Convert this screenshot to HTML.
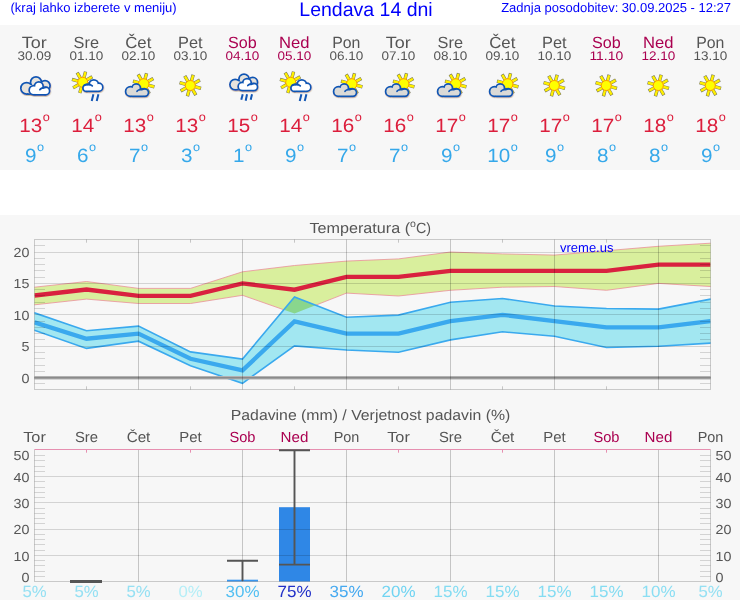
<!DOCTYPE html>
<html><head><meta charset="utf-8"><title>Lendava 14 dni</title>
<style>html,body{margin:0;padding:0;background:#fff;}body{width:740px;height:600px;overflow:hidden;font-family:"Liberation Sans",sans-serif;}svg{display:block;will-change:transform;text-rendering:geometricPrecision;font-family:"Liberation Sans",sans-serif;}</style></head><body>
<svg width="740" height="600" viewBox="0 0 740 600">
<rect x="0" y="0" width="740" height="600" fill="#ffffff"/>
<rect x="0" y="25" width="740" height="145" fill="#f7f7f7"/>
<rect x="0" y="215" width="740" height="385" fill="#f7f7f7"/>
<text x="10.5" y="11.5" font-size="13" fill="#0000fa" text-anchor="start" >(kraj lahko izberete v meniju)</text>
<text x="366" y="15.6" font-size="19.5" fill="#0000fa" text-anchor="middle" >Lendava 14 dni</text>
<text x="731" y="11.5" font-size="13" fill="#0000fa" text-anchor="end" >Zadnja posodobitev: 30.09.2025 - 12:27</text>
<defs><filter id="sh" x="-20%" y="-20%" width="140%" height="150%"><feDropShadow dx="0.4" dy="0.9" stdDeviation="0.45" flood-color="#9a7a4a" flood-opacity="0.5"/></filter>
<g id="icA"><g fill="#1156b4" stroke="#1156b4" stroke-width="3.5" stroke-linejoin="round" filter="url(#sh)"><circle cx="12.6" cy="20.3" r="4.9"/><circle cx="22" cy="14.3" r="4.55"/><circle cx="31" cy="17.7" r="4.25"/><rect x="12" y="17" width="19.5" height="8.25" rx="2.5"/></g><g fill="#e6e3dd" stroke="none"><circle cx="12.6" cy="20.3" r="4.9"/><circle cx="22" cy="14.3" r="4.55"/><circle cx="31" cy="17.7" r="4.25"/><rect x="12" y="17" width="19.5" height="8.25" rx="2.5"/></g><g fill="#1156b4" stroke="#1156b4" stroke-width="3.5" stroke-linejoin="round" filter="url(#sh)"><circle cx="19.8" cy="22.2" r="3.75"/><circle cx="24.8" cy="18.3" r="3.5"/><circle cx="31.8" cy="23.0" r="2.95"/><rect x="19.8" y="21" width="12.5" height="4.95" rx="2"/></g><g fill="#ffffff" stroke="none"><circle cx="19.8" cy="22.2" r="3.75"/><circle cx="24.8" cy="18.3" r="3.5"/><circle cx="31.8" cy="23.0" r="2.95"/><rect x="19.8" y="21" width="12.5" height="4.95" rx="2"/></g><path d="M25.8,21.7 Q27.5,19.3 32,19.4" fill="none" stroke="#1156b4" stroke-width="1.7" stroke-linecap="round"/></g>
<g id="icE"><g fill="#1156b4" stroke="#1156b4" stroke-width="3.5" stroke-linejoin="round" filter="url(#sh)"><circle cx="13.2" cy="16.6" r="4.45"/><circle cx="22" cy="11.3" r="4.25"/><circle cx="30.7" cy="14.3" r="3.95"/><rect x="12.6" y="13.4" width="18.5" height="7.4" rx="2.5"/></g><g fill="#e6e3dd" stroke="none"><circle cx="13.2" cy="16.6" r="4.45"/><circle cx="22" cy="11.3" r="4.25"/><circle cx="30.7" cy="14.3" r="3.95"/><rect x="12.6" y="13.4" width="18.5" height="7.4" rx="2.5"/></g><g fill="#1156b4" stroke="#1156b4" stroke-width="3.5" stroke-linejoin="round" filter="url(#sh)"><circle cx="20.3" cy="18.5" r="3.3"/><circle cx="25" cy="15.0" r="3.4"/><circle cx="32" cy="19.0" r="2.7"/><rect x="20.3" y="17.3" width="12" height="4.4" rx="2"/></g><g fill="#ffffff" stroke="none"><circle cx="20.3" cy="18.5" r="3.3"/><circle cx="25" cy="15.0" r="3.4"/><circle cx="32" cy="19.0" r="2.7"/><rect x="20.3" y="17.3" width="12" height="4.4" rx="2"/></g><path d="M25.8,17.6 Q27.4,15.5 31.6,15.5" fill="none" stroke="#1156b4" stroke-width="1.7" stroke-linecap="round"/><line x1="20.7" y1="26.3" x2="19.3" y2="31.7" stroke="#1156b4" stroke-width="2"/><line x1="25" y1="26.3" x2="23.7" y2="32.7" stroke="#1156b4" stroke-width="2"/><line x1="30" y1="26.3" x2="28.7" y2="31.7" stroke="#1156b4" stroke-width="2"/></g>
<g id="icD"><line x1="21.46" y1="13.15" x2="23.17" y2="6.78" stroke="#74745c" stroke-width="3.4" stroke-linecap="butt"/><line x1="24.20" y1="15.25" x2="29.91" y2="11.95" stroke="#74745c" stroke-width="3.4" stroke-linecap="butt"/><line x1="24.65" y1="18.66" x2="31.02" y2="20.37" stroke="#74745c" stroke-width="3.4" stroke-linecap="butt"/><line x1="22.55" y1="21.40" x2="25.85" y2="27.11" stroke="#74745c" stroke-width="3.4" stroke-linecap="butt"/><line x1="19.14" y1="21.85" x2="17.43" y2="28.22" stroke="#74745c" stroke-width="3.4" stroke-linecap="butt"/><line x1="16.40" y1="19.75" x2="10.69" y2="23.05" stroke="#74745c" stroke-width="3.4" stroke-linecap="butt"/><line x1="15.95" y1="16.34" x2="9.58" y2="14.63" stroke="#74745c" stroke-width="3.4" stroke-linecap="butt"/><line x1="18.05" y1="13.60" x2="14.75" y2="7.89" stroke="#74745c" stroke-width="3.4" stroke-linecap="butt"/><line x1="21.54" y1="12.86" x2="23.06" y2="7.21" stroke="#fff000" stroke-width="2.4" stroke-linecap="butt"/><line x1="24.46" y1="15.10" x2="29.52" y2="12.18" stroke="#fff000" stroke-width="2.4" stroke-linecap="butt"/><line x1="24.94" y1="18.74" x2="30.59" y2="20.26" stroke="#fff000" stroke-width="2.4" stroke-linecap="butt"/><line x1="22.70" y1="21.66" x2="25.62" y2="26.72" stroke="#fff000" stroke-width="2.4" stroke-linecap="butt"/><line x1="19.06" y1="22.14" x2="17.54" y2="27.79" stroke="#fff000" stroke-width="2.4" stroke-linecap="butt"/><line x1="16.14" y1="19.90" x2="11.08" y2="22.82" stroke="#fff000" stroke-width="2.4" stroke-linecap="butt"/><line x1="15.66" y1="16.26" x2="10.01" y2="14.74" stroke="#fff000" stroke-width="2.4" stroke-linecap="butt"/><line x1="17.90" y1="13.34" x2="14.97" y2="8.28" stroke="#fff000" stroke-width="2.4" stroke-linecap="butt"/><circle cx="20.3" cy="17.5" r="5.0" fill="#ffff00" stroke="#ff9a00" stroke-width="1"/></g>
<g id="icB"><line x1="17.86" y1="9.95" x2="19.57" y2="3.58" stroke="#74745c" stroke-width="3.4" stroke-linecap="butt"/><line x1="20.60" y1="12.05" x2="26.31" y2="8.75" stroke="#74745c" stroke-width="3.4" stroke-linecap="butt"/><line x1="21.05" y1="15.46" x2="27.42" y2="17.17" stroke="#74745c" stroke-width="3.4" stroke-linecap="butt"/><line x1="18.95" y1="18.20" x2="22.25" y2="23.91" stroke="#74745c" stroke-width="3.4" stroke-linecap="butt"/><line x1="15.54" y1="18.65" x2="13.83" y2="25.02" stroke="#74745c" stroke-width="3.4" stroke-linecap="butt"/><line x1="12.80" y1="16.55" x2="7.09" y2="19.85" stroke="#74745c" stroke-width="3.4" stroke-linecap="butt"/><line x1="12.35" y1="13.14" x2="5.98" y2="11.43" stroke="#74745c" stroke-width="3.4" stroke-linecap="butt"/><line x1="14.45" y1="10.40" x2="11.15" y2="4.69" stroke="#74745c" stroke-width="3.4" stroke-linecap="butt"/><line x1="17.94" y1="9.66" x2="19.46" y2="4.01" stroke="#fff000" stroke-width="2.4" stroke-linecap="butt"/><line x1="20.86" y1="11.90" x2="25.92" y2="8.98" stroke="#fff000" stroke-width="2.4" stroke-linecap="butt"/><line x1="21.34" y1="15.54" x2="26.99" y2="17.06" stroke="#fff000" stroke-width="2.4" stroke-linecap="butt"/><line x1="19.10" y1="18.46" x2="22.02" y2="23.52" stroke="#fff000" stroke-width="2.4" stroke-linecap="butt"/><line x1="15.46" y1="18.94" x2="13.94" y2="24.59" stroke="#fff000" stroke-width="2.4" stroke-linecap="butt"/><line x1="12.54" y1="16.70" x2="7.48" y2="19.62" stroke="#fff000" stroke-width="2.4" stroke-linecap="butt"/><line x1="12.06" y1="13.06" x2="6.41" y2="11.54" stroke="#fff000" stroke-width="2.4" stroke-linecap="butt"/><line x1="14.30" y1="10.14" x2="11.37" y2="5.08" stroke="#fff000" stroke-width="2.4" stroke-linecap="butt"/><circle cx="16.7" cy="14.3" r="5.0" fill="#ffff00" stroke="#ff9a00" stroke-width="1"/><g fill="#1156b4" stroke="#1156b4" stroke-width="3.5" stroke-linejoin="round" filter="url(#sh)"><circle cx="20.3" cy="20" r="2.55"/><circle cx="27.8" cy="16.5" r="3.75"/><circle cx="32.7" cy="19.3" r="3.25"/><rect x="20.3" y="17.5" width="12.8" height="5.05" rx="2"/></g><g fill="#ffffff" stroke="none"><circle cx="20.3" cy="20" r="2.55"/><circle cx="27.8" cy="16.5" r="3.75"/><circle cx="32.7" cy="19.3" r="3.25"/><rect x="20.3" y="17.5" width="12.8" height="5.05" rx="2"/></g><path d="M18.6,17.3 Q22.5,14.6 26.3,17.9" fill="none" stroke="#1156b4" stroke-width="1.7" stroke-linecap="round"/><line x1="27.4" y1="26.3" x2="25.7" y2="33" stroke="#1156b4" stroke-width="2"/><line x1="32.4" y1="26.3" x2="30.7" y2="33" stroke="#1156b4" stroke-width="2"/></g>
<g id="icC"><line x1="26.86" y1="11.65" x2="28.57" y2="5.28" stroke="#74745c" stroke-width="3.4" stroke-linecap="butt"/><line x1="29.60" y1="13.75" x2="35.31" y2="10.45" stroke="#74745c" stroke-width="3.4" stroke-linecap="butt"/><line x1="30.05" y1="17.16" x2="36.42" y2="18.87" stroke="#74745c" stroke-width="3.4" stroke-linecap="butt"/><line x1="27.95" y1="19.90" x2="31.25" y2="25.61" stroke="#74745c" stroke-width="3.4" stroke-linecap="butt"/><line x1="24.54" y1="20.35" x2="22.83" y2="26.72" stroke="#74745c" stroke-width="3.4" stroke-linecap="butt"/><line x1="21.80" y1="18.25" x2="16.09" y2="21.55" stroke="#74745c" stroke-width="3.4" stroke-linecap="butt"/><line x1="21.35" y1="14.84" x2="14.98" y2="13.13" stroke="#74745c" stroke-width="3.4" stroke-linecap="butt"/><line x1="23.45" y1="12.10" x2="20.15" y2="6.39" stroke="#74745c" stroke-width="3.4" stroke-linecap="butt"/><line x1="26.94" y1="11.36" x2="28.46" y2="5.71" stroke="#fff000" stroke-width="2.4" stroke-linecap="butt"/><line x1="29.86" y1="13.60" x2="34.92" y2="10.68" stroke="#fff000" stroke-width="2.4" stroke-linecap="butt"/><line x1="30.34" y1="17.24" x2="35.99" y2="18.76" stroke="#fff000" stroke-width="2.4" stroke-linecap="butt"/><line x1="28.10" y1="20.16" x2="31.02" y2="25.22" stroke="#fff000" stroke-width="2.4" stroke-linecap="butt"/><line x1="24.46" y1="20.64" x2="22.94" y2="26.29" stroke="#fff000" stroke-width="2.4" stroke-linecap="butt"/><line x1="21.54" y1="18.40" x2="16.48" y2="21.32" stroke="#fff000" stroke-width="2.4" stroke-linecap="butt"/><line x1="21.06" y1="14.76" x2="15.41" y2="13.24" stroke="#fff000" stroke-width="2.4" stroke-linecap="butt"/><line x1="23.30" y1="11.84" x2="20.37" y2="6.78" stroke="#fff000" stroke-width="2.4" stroke-linecap="butt"/><circle cx="25.7" cy="16" r="5.3" fill="#ffff00" stroke="#ff9a00" stroke-width="1"/><g fill="#1156b4" stroke="#1156b4" stroke-width="3.5" stroke-linejoin="round" filter="url(#sh)"><circle cx="12.5" cy="23.5" r="4.05"/><circle cx="18.2" cy="20.2" r="3.45"/><circle cx="26.7" cy="24.6" r="2.95"/><rect x="12.5" y="22.5" width="14.5" height="5.05" rx="2.2"/></g><g fill="#dbdad7" stroke="none"><circle cx="12.5" cy="23.5" r="4.05"/><circle cx="18.2" cy="20.2" r="3.45"/><circle cx="26.7" cy="24.6" r="2.95"/><rect x="12.5" y="22.5" width="14.5" height="5.05" rx="2.2"/></g><path d="M19,23.3 Q20.7,20.9 26.7,20.5" fill="none" stroke="#1156b4" stroke-width="1.7" stroke-linecap="round"/></g>
</defs>
<use href="#icA" x="14" y="68"/>
<use href="#icB" x="66" y="68"/>
<use href="#icC" x="118" y="68"/>
<use href="#icD" x="170" y="68"/>
<use href="#icE" x="222" y="68"/>
<use href="#icB" x="274" y="68"/>
<use href="#icC" x="326" y="68"/>
<use href="#icC" x="378" y="68"/>
<use href="#icC" x="430" y="68"/>
<use href="#icC" x="482" y="68"/>
<use href="#icD" x="534" y="68"/>
<use href="#icD" x="586" y="68"/>
<use href="#icD" x="638" y="68"/>
<use href="#icD" x="690" y="68"/>
<text x="34.3" y="47.9" font-size="16.2" fill="#555555" text-anchor="middle" textLength="25.0" lengthAdjust="spacingAndGlyphs" >Tor</text>
<text x="34.3" y="59.8" font-size="12.51" fill="#555555" text-anchor="middle" textLength="33.8" lengthAdjust="spacingAndGlyphs" >30.09</text>
<text x="19.3356453125" y="132.3" font-size="19.2" fill="#dc1e3c" text-anchor="start" textLength="23.0" lengthAdjust="spacingAndGlyphs" >13</text>
<text x="42.6673296875" y="121.30000000000001" font-size="12.0" fill="#dc1e3c" text-anchor="start" textLength="7.1" lengthAdjust="spacingAndGlyphs" >o</text>
<text x="25.093566406249998" y="162" font-size="19.2" fill="#35a8ea" text-anchor="start" textLength="11.5" lengthAdjust="spacingAndGlyphs" >9</text>
<text x="36.909408593749994" y="151.0" font-size="12.0" fill="#35a8ea" text-anchor="start" textLength="7.1" lengthAdjust="spacingAndGlyphs" >o</text>
<text x="86.3" y="47.9" font-size="16.2" fill="#555555" text-anchor="middle" textLength="25.4" lengthAdjust="spacingAndGlyphs" >Sre</text>
<text x="86.3" y="59.8" font-size="12.51" fill="#555555" text-anchor="middle" textLength="33.8" lengthAdjust="spacingAndGlyphs" >01.10</text>
<text x="71.3356453125" y="132.3" font-size="19.2" fill="#dc1e3c" text-anchor="start" textLength="23.0" lengthAdjust="spacingAndGlyphs" >14</text>
<text x="94.6673296875" y="121.30000000000001" font-size="12.0" fill="#dc1e3c" text-anchor="start" textLength="7.1" lengthAdjust="spacingAndGlyphs" >o</text>
<text x="77.09356640625" y="162" font-size="19.2" fill="#35a8ea" text-anchor="start" textLength="11.5" lengthAdjust="spacingAndGlyphs" >6</text>
<text x="88.90940859375" y="151.0" font-size="12.0" fill="#35a8ea" text-anchor="start" textLength="7.1" lengthAdjust="spacingAndGlyphs" >o</text>
<text x="138.3" y="47.9" font-size="16.2" fill="#555555" text-anchor="middle" textLength="26.1" lengthAdjust="spacingAndGlyphs" >Čet</text>
<text x="138.3" y="59.8" font-size="12.51" fill="#555555" text-anchor="middle" textLength="33.8" lengthAdjust="spacingAndGlyphs" >02.10</text>
<text x="123.3356453125" y="132.3" font-size="19.2" fill="#dc1e3c" text-anchor="start" textLength="23.0" lengthAdjust="spacingAndGlyphs" >13</text>
<text x="146.66732968750003" y="121.30000000000001" font-size="12.0" fill="#dc1e3c" text-anchor="start" textLength="7.1" lengthAdjust="spacingAndGlyphs" >o</text>
<text x="129.09356640625" y="162" font-size="19.2" fill="#35a8ea" text-anchor="start" textLength="11.5" lengthAdjust="spacingAndGlyphs" >7</text>
<text x="140.90940859375002" y="151.0" font-size="12.0" fill="#35a8ea" text-anchor="start" textLength="7.1" lengthAdjust="spacingAndGlyphs" >o</text>
<text x="190.3" y="47.9" font-size="16.2" fill="#555555" text-anchor="middle" textLength="24.6" lengthAdjust="spacingAndGlyphs" >Pet</text>
<text x="190.3" y="59.8" font-size="12.51" fill="#555555" text-anchor="middle" textLength="33.8" lengthAdjust="spacingAndGlyphs" >03.10</text>
<text x="175.3356453125" y="132.3" font-size="19.2" fill="#dc1e3c" text-anchor="start" textLength="23.0" lengthAdjust="spacingAndGlyphs" >13</text>
<text x="198.6673296875" y="121.30000000000001" font-size="12.0" fill="#dc1e3c" text-anchor="start" textLength="7.1" lengthAdjust="spacingAndGlyphs" >o</text>
<text x="181.09356640625" y="162" font-size="19.2" fill="#35a8ea" text-anchor="start" textLength="11.5" lengthAdjust="spacingAndGlyphs" >3</text>
<text x="192.90940859375002" y="151.0" font-size="12.0" fill="#35a8ea" text-anchor="start" textLength="7.1" lengthAdjust="spacingAndGlyphs" >o</text>
<text x="242.3" y="47.9" font-size="16.2" fill="#aa0050" text-anchor="middle" textLength="28.7" lengthAdjust="spacingAndGlyphs" >Sob</text>
<text x="242.3" y="59.8" font-size="12.51" fill="#aa0050" text-anchor="middle" textLength="33.8" lengthAdjust="spacingAndGlyphs" >04.10</text>
<text x="227.3356453125" y="132.3" font-size="19.2" fill="#dc1e3c" text-anchor="start" textLength="23.0" lengthAdjust="spacingAndGlyphs" >15</text>
<text x="250.6673296875" y="121.30000000000001" font-size="12.0" fill="#dc1e3c" text-anchor="start" textLength="7.1" lengthAdjust="spacingAndGlyphs" >o</text>
<text x="233.09356640625" y="162" font-size="19.2" fill="#35a8ea" text-anchor="start" textLength="11.5" lengthAdjust="spacingAndGlyphs" >1</text>
<text x="244.90940859375002" y="151.0" font-size="12.0" fill="#35a8ea" text-anchor="start" textLength="7.1" lengthAdjust="spacingAndGlyphs" >o</text>
<text x="294.3" y="47.9" font-size="16.2" fill="#aa0050" text-anchor="middle" textLength="30.5" lengthAdjust="spacingAndGlyphs" >Ned</text>
<text x="294.3" y="59.8" font-size="12.51" fill="#aa0050" text-anchor="middle" textLength="33.8" lengthAdjust="spacingAndGlyphs" >05.10</text>
<text x="279.3356453125" y="132.3" font-size="19.2" fill="#dc1e3c" text-anchor="start" textLength="23.0" lengthAdjust="spacingAndGlyphs" >14</text>
<text x="302.6673296875" y="121.30000000000001" font-size="12.0" fill="#dc1e3c" text-anchor="start" textLength="7.1" lengthAdjust="spacingAndGlyphs" >o</text>
<text x="285.09356640625" y="162" font-size="19.2" fill="#35a8ea" text-anchor="start" textLength="11.5" lengthAdjust="spacingAndGlyphs" >9</text>
<text x="296.90940859375" y="151.0" font-size="12.0" fill="#35a8ea" text-anchor="start" textLength="7.1" lengthAdjust="spacingAndGlyphs" >o</text>
<text x="346.3" y="47.9" font-size="16.2" fill="#555555" text-anchor="middle" textLength="28.2" lengthAdjust="spacingAndGlyphs" >Pon</text>
<text x="346.3" y="59.8" font-size="12.51" fill="#555555" text-anchor="middle" textLength="33.8" lengthAdjust="spacingAndGlyphs" >06.10</text>
<text x="331.3356453125" y="132.3" font-size="19.2" fill="#dc1e3c" text-anchor="start" textLength="23.0" lengthAdjust="spacingAndGlyphs" >16</text>
<text x="354.6673296875" y="121.30000000000001" font-size="12.0" fill="#dc1e3c" text-anchor="start" textLength="7.1" lengthAdjust="spacingAndGlyphs" >o</text>
<text x="337.09356640625" y="162" font-size="19.2" fill="#35a8ea" text-anchor="start" textLength="11.5" lengthAdjust="spacingAndGlyphs" >7</text>
<text x="348.90940859375" y="151.0" font-size="12.0" fill="#35a8ea" text-anchor="start" textLength="7.1" lengthAdjust="spacingAndGlyphs" >o</text>
<text x="398.3" y="47.9" font-size="16.2" fill="#555555" text-anchor="middle" textLength="25.0" lengthAdjust="spacingAndGlyphs" >Tor</text>
<text x="398.3" y="59.8" font-size="12.51" fill="#555555" text-anchor="middle" textLength="33.8" lengthAdjust="spacingAndGlyphs" >07.10</text>
<text x="383.3356453125" y="132.3" font-size="19.2" fill="#dc1e3c" text-anchor="start" textLength="23.0" lengthAdjust="spacingAndGlyphs" >16</text>
<text x="406.6673296875" y="121.30000000000001" font-size="12.0" fill="#dc1e3c" text-anchor="start" textLength="7.1" lengthAdjust="spacingAndGlyphs" >o</text>
<text x="389.09356640625" y="162" font-size="19.2" fill="#35a8ea" text-anchor="start" textLength="11.5" lengthAdjust="spacingAndGlyphs" >7</text>
<text x="400.90940859375" y="151.0" font-size="12.0" fill="#35a8ea" text-anchor="start" textLength="7.1" lengthAdjust="spacingAndGlyphs" >o</text>
<text x="450.3" y="47.9" font-size="16.2" fill="#555555" text-anchor="middle" textLength="25.4" lengthAdjust="spacingAndGlyphs" >Sre</text>
<text x="450.3" y="59.8" font-size="12.51" fill="#555555" text-anchor="middle" textLength="33.8" lengthAdjust="spacingAndGlyphs" >08.10</text>
<text x="435.3356453125" y="132.3" font-size="19.2" fill="#dc1e3c" text-anchor="start" textLength="23.0" lengthAdjust="spacingAndGlyphs" >17</text>
<text x="458.6673296875" y="121.30000000000001" font-size="12.0" fill="#dc1e3c" text-anchor="start" textLength="7.1" lengthAdjust="spacingAndGlyphs" >o</text>
<text x="441.09356640625" y="162" font-size="19.2" fill="#35a8ea" text-anchor="start" textLength="11.5" lengthAdjust="spacingAndGlyphs" >9</text>
<text x="452.90940859375" y="151.0" font-size="12.0" fill="#35a8ea" text-anchor="start" textLength="7.1" lengthAdjust="spacingAndGlyphs" >o</text>
<text x="502.3" y="47.9" font-size="16.2" fill="#555555" text-anchor="middle" textLength="26.1" lengthAdjust="spacingAndGlyphs" >Čet</text>
<text x="502.3" y="59.8" font-size="12.51" fill="#555555" text-anchor="middle" textLength="33.8" lengthAdjust="spacingAndGlyphs" >09.10</text>
<text x="487.3356453125" y="132.3" font-size="19.2" fill="#dc1e3c" text-anchor="start" textLength="23.0" lengthAdjust="spacingAndGlyphs" >17</text>
<text x="510.6673296875" y="121.30000000000001" font-size="12.0" fill="#dc1e3c" text-anchor="start" textLength="7.1" lengthAdjust="spacingAndGlyphs" >o</text>
<text x="487.3356453125" y="162" font-size="19.2" fill="#35a8ea" text-anchor="start" textLength="23.0" lengthAdjust="spacingAndGlyphs" >10</text>
<text x="510.6673296875" y="151.0" font-size="12.0" fill="#35a8ea" text-anchor="start" textLength="7.1" lengthAdjust="spacingAndGlyphs" >o</text>
<text x="554.3" y="47.9" font-size="16.2" fill="#555555" text-anchor="middle" textLength="24.6" lengthAdjust="spacingAndGlyphs" >Pet</text>
<text x="554.3" y="59.8" font-size="12.51" fill="#555555" text-anchor="middle" textLength="33.8" lengthAdjust="spacingAndGlyphs" >10.10</text>
<text x="539.3356453125" y="132.3" font-size="19.2" fill="#dc1e3c" text-anchor="start" textLength="23.0" lengthAdjust="spacingAndGlyphs" >17</text>
<text x="562.6673296875" y="121.30000000000001" font-size="12.0" fill="#dc1e3c" text-anchor="start" textLength="7.1" lengthAdjust="spacingAndGlyphs" >o</text>
<text x="545.0935664062499" y="162" font-size="19.2" fill="#35a8ea" text-anchor="start" textLength="11.5" lengthAdjust="spacingAndGlyphs" >9</text>
<text x="556.9094085937498" y="151.0" font-size="12.0" fill="#35a8ea" text-anchor="start" textLength="7.1" lengthAdjust="spacingAndGlyphs" >o</text>
<text x="606.3" y="47.9" font-size="16.2" fill="#aa0050" text-anchor="middle" textLength="28.7" lengthAdjust="spacingAndGlyphs" >Sob</text>
<text x="606.3" y="59.8" font-size="12.51" fill="#aa0050" text-anchor="middle" textLength="33.8" lengthAdjust="spacingAndGlyphs" >11.10</text>
<text x="591.3356453125" y="132.3" font-size="19.2" fill="#dc1e3c" text-anchor="start" textLength="23.0" lengthAdjust="spacingAndGlyphs" >17</text>
<text x="614.6673296875" y="121.30000000000001" font-size="12.0" fill="#dc1e3c" text-anchor="start" textLength="7.1" lengthAdjust="spacingAndGlyphs" >o</text>
<text x="597.0935664062499" y="162" font-size="19.2" fill="#35a8ea" text-anchor="start" textLength="11.5" lengthAdjust="spacingAndGlyphs" >8</text>
<text x="608.9094085937498" y="151.0" font-size="12.0" fill="#35a8ea" text-anchor="start" textLength="7.1" lengthAdjust="spacingAndGlyphs" >o</text>
<text x="658.3" y="47.9" font-size="16.2" fill="#aa0050" text-anchor="middle" textLength="30.5" lengthAdjust="spacingAndGlyphs" >Ned</text>
<text x="658.3" y="59.8" font-size="12.51" fill="#aa0050" text-anchor="middle" textLength="33.8" lengthAdjust="spacingAndGlyphs" >12.10</text>
<text x="643.3356453125" y="132.3" font-size="19.2" fill="#dc1e3c" text-anchor="start" textLength="23.0" lengthAdjust="spacingAndGlyphs" >18</text>
<text x="666.6673296875" y="121.30000000000001" font-size="12.0" fill="#dc1e3c" text-anchor="start" textLength="7.1" lengthAdjust="spacingAndGlyphs" >o</text>
<text x="649.0935664062499" y="162" font-size="19.2" fill="#35a8ea" text-anchor="start" textLength="11.5" lengthAdjust="spacingAndGlyphs" >8</text>
<text x="660.9094085937498" y="151.0" font-size="12.0" fill="#35a8ea" text-anchor="start" textLength="7.1" lengthAdjust="spacingAndGlyphs" >o</text>
<text x="710.3" y="47.9" font-size="16.2" fill="#555555" text-anchor="middle" textLength="28.2" lengthAdjust="spacingAndGlyphs" >Pon</text>
<text x="710.3" y="59.8" font-size="12.51" fill="#555555" text-anchor="middle" textLength="33.8" lengthAdjust="spacingAndGlyphs" >13.10</text>
<text x="695.3356453125" y="132.3" font-size="19.2" fill="#dc1e3c" text-anchor="start" textLength="23.0" lengthAdjust="spacingAndGlyphs" >18</text>
<text x="718.6673296875" y="121.30000000000001" font-size="12.0" fill="#dc1e3c" text-anchor="start" textLength="7.1" lengthAdjust="spacingAndGlyphs" >o</text>
<text x="701.0935664062499" y="162" font-size="19.2" fill="#35a8ea" text-anchor="start" textLength="11.5" lengthAdjust="spacingAndGlyphs" >9</text>
<text x="712.9094085937498" y="151.0" font-size="12.0" fill="#35a8ea" text-anchor="start" textLength="7.1" lengthAdjust="spacingAndGlyphs" >o</text>
<clipPath id="cp1"><rect x="34.5" y="239.5" width="676.0" height="150.0"/></clipPath>
<clipPath id="cpg"><polygon points="29.0,287.2 34.5,287.2 86.5,281.5 138.5,288.4 190.5,288.4 242.5,271.8 294.5,265.5 346.5,261.1 398.5,258.9 450.5,252.0 502.5,253.9 554.5,255.1 606.5,250.7 658.5,246.3 710.5,243.2 716.0,243.2 716.0,286.5 710.5,286.5 658.5,283.4 606.5,290.3 554.5,286.5 502.5,287.2 450.5,290.3 398.5,296.0 346.5,293.1 294.5,313.5 242.5,295.3 190.5,303.5 138.5,303.5 86.5,299.1 34.5,304.8 29.0,304.8"/></clipPath>
<g clip-path="url(#cp1)">
<polygon points="29.0,287.2 34.5,287.2 86.5,281.5 138.5,288.4 190.5,288.4 242.5,271.8 294.5,265.5 346.5,261.1 398.5,258.9 450.5,252.0 502.5,253.9 554.5,255.1 606.5,250.7 658.5,246.3 710.5,243.2 716.0,243.2 716.0,286.5 710.5,286.5 658.5,283.4 606.5,290.3 554.5,286.5 502.5,287.2 450.5,290.3 398.5,296.0 346.5,293.1 294.5,313.5 242.5,295.3 190.5,303.5 138.5,303.5 86.5,299.1 34.5,304.8 29.0,304.8" fill="#d9ef9d" stroke="#ea8f98" stroke-width="0.8"/>
<polygon points="29.0,312.9 34.5,312.9 86.5,330.8 138.5,326.1 190.5,351.9 242.5,359.1 294.5,296.9 346.5,317.3 398.5,315.1 450.5,302.2 502.5,298.5 554.5,306.0 606.5,308.5 658.5,309.1 710.5,299.1 716.0,299.1 716.0,343.1 710.5,343.1 658.5,346.2 606.5,347.5 554.5,336.2 502.5,331.8 450.5,339.9 398.5,352.2 346.5,350.0 294.5,345.9 242.5,383.3 190.5,365.7 138.5,341.2 86.5,348.4 34.5,330.2 29.0,330.2" fill="#a2e7f1" stroke="none"/>
<g clip-path="url(#cpg)"><polygon points="29.0,312.9 34.5,312.9 86.5,330.8 138.5,326.1 190.5,351.9 242.5,359.1 294.5,296.9 346.5,317.3 398.5,315.1 450.5,302.2 502.5,298.5 554.5,306.0 606.5,308.5 658.5,309.1 710.5,299.1 716.0,299.1 716.0,343.1 710.5,343.1 658.5,346.2 606.5,347.5 554.5,336.2 502.5,331.8 450.5,339.9 398.5,352.2 346.5,350.0 294.5,345.9 242.5,383.3 190.5,365.7 138.5,341.2 86.5,348.4 34.5,330.2 29.0,330.2" fill="#89d68d" stroke="none"/></g>
<polygon points="29.0,312.9 34.5,312.9 86.5,330.8 138.5,326.1 190.5,351.9 242.5,359.1 294.5,296.9 346.5,317.3 398.5,315.1 450.5,302.2 502.5,298.5 554.5,306.0 606.5,308.5 658.5,309.1 710.5,299.1 716.0,299.1 716.0,343.1 710.5,343.1 658.5,346.2 606.5,347.5 554.5,336.2 502.5,331.8 450.5,339.9 398.5,352.2 346.5,350.0 294.5,345.9 242.5,383.3 190.5,365.7 138.5,341.2 86.5,348.4 34.5,330.2 29.0,330.2" fill="none" stroke="#3aa9ee" stroke-width="1.6" stroke-linejoin="miter"/>
<polyline points="34.5,295.5 86.5,289.5 138.5,295.8 190.5,295.8 242.5,283.4 294.5,289.7 346.5,276.8 398.5,276.8 450.5,270.8 502.5,270.8 554.5,270.8 606.5,270.8 658.5,264.6 710.5,264.6" fill="none" stroke="#d9213f" stroke-width="4.3" stroke-linejoin="miter"/>
<polyline points="34.5,322.3 86.5,338.7 138.5,333.6 190.5,358.8 242.5,370.4 294.5,321.4 346.5,333.6 398.5,333.6 450.5,321.1 502.5,314.8 554.5,321.1 606.5,327.4 658.5,327.4 710.5,321.1" fill="none" stroke="#3aa9ee" stroke-width="4.3" stroke-linejoin="miter"/>
</g>
<line x1="34.5" x2="710.5" y1="377.75" y2="377.75" stroke="#b2b2b2" stroke-width="3.6"/>
<line x1="34.5" x2="710.5" y1="377.75" y2="377.75" stroke="#8a8a8a" stroke-width="1.7"/>
<line x1="34.5" x2="710.5" y1="346.5" y2="346.5" stroke="rgba(0,0,0,0.145)" stroke-width="1"/>
<line x1="34.5" x2="710.5" y1="314.5" y2="314.5" stroke="rgba(0,0,0,0.145)" stroke-width="1"/>
<line x1="34.5" x2="710.5" y1="283.5" y2="283.5" stroke="rgba(0,0,0,0.145)" stroke-width="1"/>
<line x1="34.5" x2="710.5" y1="252.5" y2="252.5" stroke="rgba(0,0,0,0.145)" stroke-width="1"/>
<line x1="138.5" x2="138.5" y1="239.5" y2="389.5" stroke="rgba(0,0,0,0.20)" stroke-width="1"/>
<line x1="242.5" x2="242.5" y1="239.5" y2="389.5" stroke="rgba(0,0,0,0.20)" stroke-width="1"/>
<line x1="346.5" x2="346.5" y1="239.5" y2="389.5" stroke="rgba(0,0,0,0.20)" stroke-width="1"/>
<line x1="450.5" x2="450.5" y1="239.5" y2="389.5" stroke="rgba(0,0,0,0.20)" stroke-width="1"/>
<line x1="554.5" x2="554.5" y1="239.5" y2="389.5" stroke="rgba(0,0,0,0.20)" stroke-width="1"/>
<line x1="658.5" x2="658.5" y1="239.5" y2="389.5" stroke="rgba(0,0,0,0.20)" stroke-width="1"/>
<line x1="34.5" x2="45.0" y1="383.5" y2="383.5" stroke="rgba(0,0,0,0.145)" stroke-width="1"/>
<line x1="700.0" x2="710.5" y1="383.5" y2="383.5" stroke="rgba(0,0,0,0.145)" stroke-width="1"/>
<line x1="34.5" x2="45.0" y1="371.5" y2="371.5" stroke="rgba(0,0,0,0.145)" stroke-width="1"/>
<line x1="700.0" x2="710.5" y1="371.5" y2="371.5" stroke="rgba(0,0,0,0.145)" stroke-width="1"/>
<line x1="34.5" x2="45.0" y1="365.5" y2="365.5" stroke="rgba(0,0,0,0.145)" stroke-width="1"/>
<line x1="700.0" x2="710.5" y1="365.5" y2="365.5" stroke="rgba(0,0,0,0.145)" stroke-width="1"/>
<line x1="34.5" x2="45.0" y1="358.5" y2="358.5" stroke="rgba(0,0,0,0.145)" stroke-width="1"/>
<line x1="700.0" x2="710.5" y1="358.5" y2="358.5" stroke="rgba(0,0,0,0.145)" stroke-width="1"/>
<line x1="34.5" x2="45.0" y1="352.5" y2="352.5" stroke="rgba(0,0,0,0.145)" stroke-width="1"/>
<line x1="700.0" x2="710.5" y1="352.5" y2="352.5" stroke="rgba(0,0,0,0.145)" stroke-width="1"/>
<line x1="34.5" x2="45.0" y1="339.5" y2="339.5" stroke="rgba(0,0,0,0.145)" stroke-width="1"/>
<line x1="700.0" x2="710.5" y1="339.5" y2="339.5" stroke="rgba(0,0,0,0.145)" stroke-width="1"/>
<line x1="34.5" x2="45.0" y1="333.5" y2="333.5" stroke="rgba(0,0,0,0.145)" stroke-width="1"/>
<line x1="700.0" x2="710.5" y1="333.5" y2="333.5" stroke="rgba(0,0,0,0.145)" stroke-width="1"/>
<line x1="34.5" x2="45.0" y1="327.5" y2="327.5" stroke="rgba(0,0,0,0.145)" stroke-width="1"/>
<line x1="700.0" x2="710.5" y1="327.5" y2="327.5" stroke="rgba(0,0,0,0.145)" stroke-width="1"/>
<line x1="34.5" x2="45.0" y1="321.5" y2="321.5" stroke="rgba(0,0,0,0.145)" stroke-width="1"/>
<line x1="700.0" x2="710.5" y1="321.5" y2="321.5" stroke="rgba(0,0,0,0.145)" stroke-width="1"/>
<line x1="34.5" x2="45.0" y1="308.5" y2="308.5" stroke="rgba(0,0,0,0.145)" stroke-width="1"/>
<line x1="700.0" x2="710.5" y1="308.5" y2="308.5" stroke="rgba(0,0,0,0.145)" stroke-width="1"/>
<line x1="34.5" x2="45.0" y1="302.5" y2="302.5" stroke="rgba(0,0,0,0.145)" stroke-width="1"/>
<line x1="700.0" x2="710.5" y1="302.5" y2="302.5" stroke="rgba(0,0,0,0.145)" stroke-width="1"/>
<line x1="34.5" x2="45.0" y1="295.5" y2="295.5" stroke="rgba(0,0,0,0.145)" stroke-width="1"/>
<line x1="700.0" x2="710.5" y1="295.5" y2="295.5" stroke="rgba(0,0,0,0.145)" stroke-width="1"/>
<line x1="34.5" x2="45.0" y1="289.5" y2="289.5" stroke="rgba(0,0,0,0.145)" stroke-width="1"/>
<line x1="700.0" x2="710.5" y1="289.5" y2="289.5" stroke="rgba(0,0,0,0.145)" stroke-width="1"/>
<line x1="34.5" x2="45.0" y1="277.5" y2="277.5" stroke="rgba(0,0,0,0.145)" stroke-width="1"/>
<line x1="700.0" x2="710.5" y1="277.5" y2="277.5" stroke="rgba(0,0,0,0.145)" stroke-width="1"/>
<line x1="34.5" x2="45.0" y1="270.5" y2="270.5" stroke="rgba(0,0,0,0.145)" stroke-width="1"/>
<line x1="700.0" x2="710.5" y1="270.5" y2="270.5" stroke="rgba(0,0,0,0.145)" stroke-width="1"/>
<line x1="34.5" x2="45.0" y1="264.5" y2="264.5" stroke="rgba(0,0,0,0.145)" stroke-width="1"/>
<line x1="700.0" x2="710.5" y1="264.5" y2="264.5" stroke="rgba(0,0,0,0.145)" stroke-width="1"/>
<line x1="34.5" x2="45.0" y1="258.5" y2="258.5" stroke="rgba(0,0,0,0.145)" stroke-width="1"/>
<line x1="700.0" x2="710.5" y1="258.5" y2="258.5" stroke="rgba(0,0,0,0.145)" stroke-width="1"/>
<line x1="34.5" x2="45.0" y1="245.5" y2="245.5" stroke="rgba(0,0,0,0.145)" stroke-width="1"/>
<line x1="700.0" x2="710.5" y1="245.5" y2="245.5" stroke="rgba(0,0,0,0.145)" stroke-width="1"/>
<rect x="34.5" y="239.5" width="676.0" height="150.0" fill="none" stroke="rgba(0,0,0,0.185)" stroke-width="1"/>
<line x1="86.5" x2="86.5" y1="239.5" y2="242.7" stroke="rgba(0,0,0,0.20)" stroke-width="1"/>
<line x1="86.5" x2="86.5" y1="386.3" y2="389.5" stroke="rgba(0,0,0,0.20)" stroke-width="1"/>
<line x1="190.5" x2="190.5" y1="239.5" y2="242.7" stroke="rgba(0,0,0,0.20)" stroke-width="1"/>
<line x1="190.5" x2="190.5" y1="386.3" y2="389.5" stroke="rgba(0,0,0,0.20)" stroke-width="1"/>
<line x1="294.5" x2="294.5" y1="239.5" y2="242.7" stroke="rgba(0,0,0,0.20)" stroke-width="1"/>
<line x1="294.5" x2="294.5" y1="386.3" y2="389.5" stroke="rgba(0,0,0,0.20)" stroke-width="1"/>
<line x1="398.5" x2="398.5" y1="239.5" y2="242.7" stroke="rgba(0,0,0,0.20)" stroke-width="1"/>
<line x1="398.5" x2="398.5" y1="386.3" y2="389.5" stroke="rgba(0,0,0,0.20)" stroke-width="1"/>
<line x1="502.5" x2="502.5" y1="239.5" y2="242.7" stroke="rgba(0,0,0,0.20)" stroke-width="1"/>
<line x1="502.5" x2="502.5" y1="386.3" y2="389.5" stroke="rgba(0,0,0,0.20)" stroke-width="1"/>
<line x1="606.5" x2="606.5" y1="239.5" y2="242.7" stroke="rgba(0,0,0,0.20)" stroke-width="1"/>
<line x1="606.5" x2="606.5" y1="386.3" y2="389.5" stroke="rgba(0,0,0,0.20)" stroke-width="1"/>
<text x="29.5" y="382.6" font-size="13.25" fill="#555555" text-anchor="end" textLength="8.0" lengthAdjust="spacingAndGlyphs" >0</text>
<text x="29.5" y="351.20000000000005" font-size="13.25" fill="#555555" text-anchor="end" textLength="8.0" lengthAdjust="spacingAndGlyphs" >5</text>
<text x="29.5" y="319.8" font-size="13.25" fill="#555555" text-anchor="end" textLength="15.9" lengthAdjust="spacingAndGlyphs" >10</text>
<text x="29.5" y="288.40000000000003" font-size="13.25" fill="#555555" text-anchor="end" textLength="15.9" lengthAdjust="spacingAndGlyphs" >15</text>
<text x="29.5" y="257.0" font-size="13.25" fill="#555555" text-anchor="end" textLength="15.9" lengthAdjust="spacingAndGlyphs" >20</text>
<text x="309.541586875" y="233.4" font-size="14.72" fill="#555555" text-anchor="start" textLength="100.5" lengthAdjust="spacingAndGlyphs" >Temperatura (</text>
<text x="409.99384984375" y="226.9" font-size="10.3" fill="#555555" text-anchor="start" textLength="5.9" lengthAdjust="spacingAndGlyphs" >o</text>
<text x="415.94066734375" y="233.4" font-size="14.72" fill="#555555" text-anchor="start" textLength="15.1" lengthAdjust="spacingAndGlyphs" >C)</text>
<text x="560" y="251.5" font-size="13" fill="#0000fa" text-anchor="start" >vreme.us</text>
<rect x="279" y="507.2" width="31" height="74.3" fill="#2f87e6"/>
<rect x="227" y="579.7" width="31" height="1.8" fill="#3a96ee"/>
<line x1="34.5" x2="710.5" y1="555.5" y2="555.5" stroke="rgba(0,0,0,0.145)" stroke-width="1"/>
<line x1="34.5" x2="710.5" y1="529.5" y2="529.5" stroke="rgba(0,0,0,0.145)" stroke-width="1"/>
<line x1="34.5" x2="710.5" y1="502.5" y2="502.5" stroke="rgba(0,0,0,0.145)" stroke-width="1"/>
<line x1="34.5" x2="710.5" y1="476.5" y2="476.5" stroke="rgba(0,0,0,0.145)" stroke-width="1"/>
<line x1="138.5" x2="138.5" y1="449.5" y2="581.5" stroke="rgba(0,0,0,0.20)" stroke-width="1"/>
<line x1="242.5" x2="242.5" y1="449.5" y2="581.5" stroke="rgba(0,0,0,0.20)" stroke-width="1"/>
<line x1="346.5" x2="346.5" y1="449.5" y2="581.5" stroke="rgba(0,0,0,0.20)" stroke-width="1"/>
<line x1="450.5" x2="450.5" y1="449.5" y2="581.5" stroke="rgba(0,0,0,0.20)" stroke-width="1"/>
<line x1="554.5" x2="554.5" y1="449.5" y2="581.5" stroke="rgba(0,0,0,0.20)" stroke-width="1"/>
<line x1="658.5" x2="658.5" y1="449.5" y2="581.5" stroke="rgba(0,0,0,0.20)" stroke-width="1"/>
<line x1="34.5" x2="45.0" y1="576.5" y2="576.5" stroke="rgba(0,0,0,0.145)" stroke-width="1"/>
<line x1="700.0" x2="710.5" y1="576.5" y2="576.5" stroke="rgba(0,0,0,0.145)" stroke-width="1"/>
<line x1="34.5" x2="45.0" y1="571.5" y2="571.5" stroke="rgba(0,0,0,0.145)" stroke-width="1"/>
<line x1="700.0" x2="710.5" y1="571.5" y2="571.5" stroke="rgba(0,0,0,0.145)" stroke-width="1"/>
<line x1="34.5" x2="45.0" y1="565.5" y2="565.5" stroke="rgba(0,0,0,0.145)" stroke-width="1"/>
<line x1="700.0" x2="710.5" y1="565.5" y2="565.5" stroke="rgba(0,0,0,0.145)" stroke-width="1"/>
<line x1="34.5" x2="45.0" y1="560.5" y2="560.5" stroke="rgba(0,0,0,0.145)" stroke-width="1"/>
<line x1="700.0" x2="710.5" y1="560.5" y2="560.5" stroke="rgba(0,0,0,0.145)" stroke-width="1"/>
<line x1="34.5" x2="45.0" y1="550.5" y2="550.5" stroke="rgba(0,0,0,0.145)" stroke-width="1"/>
<line x1="700.0" x2="710.5" y1="550.5" y2="550.5" stroke="rgba(0,0,0,0.145)" stroke-width="1"/>
<line x1="34.5" x2="45.0" y1="544.5" y2="544.5" stroke="rgba(0,0,0,0.145)" stroke-width="1"/>
<line x1="700.0" x2="710.5" y1="544.5" y2="544.5" stroke="rgba(0,0,0,0.145)" stroke-width="1"/>
<line x1="34.5" x2="45.0" y1="539.5" y2="539.5" stroke="rgba(0,0,0,0.145)" stroke-width="1"/>
<line x1="700.0" x2="710.5" y1="539.5" y2="539.5" stroke="rgba(0,0,0,0.145)" stroke-width="1"/>
<line x1="34.5" x2="45.0" y1="534.5" y2="534.5" stroke="rgba(0,0,0,0.145)" stroke-width="1"/>
<line x1="700.0" x2="710.5" y1="534.5" y2="534.5" stroke="rgba(0,0,0,0.145)" stroke-width="1"/>
<line x1="34.5" x2="45.0" y1="523.5" y2="523.5" stroke="rgba(0,0,0,0.145)" stroke-width="1"/>
<line x1="700.0" x2="710.5" y1="523.5" y2="523.5" stroke="rgba(0,0,0,0.145)" stroke-width="1"/>
<line x1="34.5" x2="45.0" y1="518.5" y2="518.5" stroke="rgba(0,0,0,0.145)" stroke-width="1"/>
<line x1="700.0" x2="710.5" y1="518.5" y2="518.5" stroke="rgba(0,0,0,0.145)" stroke-width="1"/>
<line x1="34.5" x2="45.0" y1="513.5" y2="513.5" stroke="rgba(0,0,0,0.145)" stroke-width="1"/>
<line x1="700.0" x2="710.5" y1="513.5" y2="513.5" stroke="rgba(0,0,0,0.145)" stroke-width="1"/>
<line x1="34.5" x2="45.0" y1="508.5" y2="508.5" stroke="rgba(0,0,0,0.145)" stroke-width="1"/>
<line x1="700.0" x2="710.5" y1="508.5" y2="508.5" stroke="rgba(0,0,0,0.145)" stroke-width="1"/>
<line x1="34.5" x2="45.0" y1="497.5" y2="497.5" stroke="rgba(0,0,0,0.145)" stroke-width="1"/>
<line x1="700.0" x2="710.5" y1="497.5" y2="497.5" stroke="rgba(0,0,0,0.145)" stroke-width="1"/>
<line x1="34.5" x2="45.0" y1="492.5" y2="492.5" stroke="rgba(0,0,0,0.145)" stroke-width="1"/>
<line x1="700.0" x2="710.5" y1="492.5" y2="492.5" stroke="rgba(0,0,0,0.145)" stroke-width="1"/>
<line x1="34.5" x2="45.0" y1="487.5" y2="487.5" stroke="rgba(0,0,0,0.145)" stroke-width="1"/>
<line x1="700.0" x2="710.5" y1="487.5" y2="487.5" stroke="rgba(0,0,0,0.145)" stroke-width="1"/>
<line x1="34.5" x2="45.0" y1="481.5" y2="481.5" stroke="rgba(0,0,0,0.145)" stroke-width="1"/>
<line x1="700.0" x2="710.5" y1="481.5" y2="481.5" stroke="rgba(0,0,0,0.145)" stroke-width="1"/>
<line x1="34.5" x2="45.0" y1="471.5" y2="471.5" stroke="rgba(0,0,0,0.145)" stroke-width="1"/>
<line x1="700.0" x2="710.5" y1="471.5" y2="471.5" stroke="rgba(0,0,0,0.145)" stroke-width="1"/>
<line x1="34.5" x2="45.0" y1="466.5" y2="466.5" stroke="rgba(0,0,0,0.145)" stroke-width="1"/>
<line x1="700.0" x2="710.5" y1="466.5" y2="466.5" stroke="rgba(0,0,0,0.145)" stroke-width="1"/>
<line x1="34.5" x2="45.0" y1="460.5" y2="460.5" stroke="rgba(0,0,0,0.145)" stroke-width="1"/>
<line x1="700.0" x2="710.5" y1="460.5" y2="460.5" stroke="rgba(0,0,0,0.145)" stroke-width="1"/>
<line x1="34.5" x2="45.0" y1="455.5" y2="455.5" stroke="rgba(0,0,0,0.145)" stroke-width="1"/>
<line x1="700.0" x2="710.5" y1="455.5" y2="455.5" stroke="rgba(0,0,0,0.145)" stroke-width="1"/>
<path d="M34.5,449.5 V581.5 H710.5 V449.5" fill="none" stroke="rgba(0,0,0,0.185)" stroke-width="1"/>
<line x1="34.5" x2="710.5" y1="449.5" y2="449.5" stroke="#e68fb0" stroke-width="1"/>
<line x1="86.5" x2="86.5" y1="449.5" y2="452.7" stroke="#e68fb0" stroke-width="1"/>
<line x1="190.5" x2="190.5" y1="449.5" y2="452.7" stroke="#e68fb0" stroke-width="1"/>
<line x1="294.5" x2="294.5" y1="449.5" y2="452.7" stroke="#e68fb0" stroke-width="1"/>
<line x1="398.5" x2="398.5" y1="449.5" y2="452.7" stroke="#e68fb0" stroke-width="1"/>
<line x1="502.5" x2="502.5" y1="449.5" y2="452.7" stroke="#e68fb0" stroke-width="1"/>
<line x1="606.5" x2="606.5" y1="449.5" y2="452.7" stroke="#e68fb0" stroke-width="1"/>
<path d="M294.5,450.2 V564.6 M279,450.2 H310 M279,564.6 H310" stroke="#555555" stroke-width="1.9" fill="none"/>
<path d="M242.5,560.8 V581 M227,560.8 H258" stroke="#555555" stroke-width="1.9" fill="none"/>
<rect x="70" y="580" width="32" height="3" fill="#555555"/>
<text x="29.5" y="459.7" font-size="13.25" fill="#555555" text-anchor="end" textLength="15.9" lengthAdjust="spacingAndGlyphs" >50</text>
<text x="715.5" y="459.7" font-size="13.25" fill="#555555" text-anchor="start" textLength="15.9" lengthAdjust="spacingAndGlyphs" >50</text>
<text x="29.5" y="481.8" font-size="13.25" fill="#555555" text-anchor="end" textLength="15.9" lengthAdjust="spacingAndGlyphs" >40</text>
<text x="715.5" y="481.8" font-size="13.25" fill="#555555" text-anchor="start" textLength="15.9" lengthAdjust="spacingAndGlyphs" >40</text>
<text x="29.5" y="508.05" font-size="13.25" fill="#555555" text-anchor="end" textLength="15.9" lengthAdjust="spacingAndGlyphs" >30</text>
<text x="715.5" y="508.05" font-size="13.25" fill="#555555" text-anchor="start" textLength="15.9" lengthAdjust="spacingAndGlyphs" >30</text>
<text x="29.5" y="534.3" font-size="13.25" fill="#555555" text-anchor="end" textLength="15.9" lengthAdjust="spacingAndGlyphs" >20</text>
<text x="715.5" y="534.3" font-size="13.25" fill="#555555" text-anchor="start" textLength="15.9" lengthAdjust="spacingAndGlyphs" >20</text>
<text x="29.5" y="560.55" font-size="13.25" fill="#555555" text-anchor="end" textLength="15.9" lengthAdjust="spacingAndGlyphs" >10</text>
<text x="715.5" y="560.55" font-size="13.25" fill="#555555" text-anchor="start" textLength="15.9" lengthAdjust="spacingAndGlyphs" >10</text>
<text x="29.5" y="582" font-size="13.25" fill="#555555" text-anchor="end" textLength="8.0" lengthAdjust="spacingAndGlyphs" >0</text>
<text x="715.5" y="582" font-size="13.25" fill="#555555" text-anchor="start" textLength="8.0" lengthAdjust="spacingAndGlyphs" >0</text>
<text x="370.5" y="420.3" font-size="14.72" fill="#555555" text-anchor="middle" textLength="279.5" lengthAdjust="spacingAndGlyphs" >Padavine (mm) / Verjetnost padavin (%)</text>
<text x="34.5" y="442.4" font-size="14.72" fill="#555555" text-anchor="middle" textLength="22.7" lengthAdjust="spacingAndGlyphs" >Tor</text>
<text x="86.5" y="442.4" font-size="14.72" fill="#555555" text-anchor="middle" textLength="23.1" lengthAdjust="spacingAndGlyphs" >Sre</text>
<text x="138.5" y="442.4" font-size="14.72" fill="#555555" text-anchor="middle" textLength="23.7" lengthAdjust="spacingAndGlyphs" >Čet</text>
<text x="190.5" y="442.4" font-size="14.72" fill="#555555" text-anchor="middle" textLength="22.4" lengthAdjust="spacingAndGlyphs" >Pet</text>
<text x="242.5" y="442.4" font-size="14.72" fill="#aa0050" text-anchor="middle" textLength="26.1" lengthAdjust="spacingAndGlyphs" >Sob</text>
<text x="294.5" y="442.4" font-size="14.72" fill="#aa0050" text-anchor="middle" textLength="27.8" lengthAdjust="spacingAndGlyphs" >Ned</text>
<text x="346.5" y="442.4" font-size="14.72" fill="#555555" text-anchor="middle" textLength="25.7" lengthAdjust="spacingAndGlyphs" >Pon</text>
<text x="398.5" y="442.4" font-size="14.72" fill="#555555" text-anchor="middle" textLength="22.7" lengthAdjust="spacingAndGlyphs" >Tor</text>
<text x="450.5" y="442.4" font-size="14.72" fill="#555555" text-anchor="middle" textLength="23.1" lengthAdjust="spacingAndGlyphs" >Sre</text>
<text x="502.5" y="442.4" font-size="14.72" fill="#555555" text-anchor="middle" textLength="23.7" lengthAdjust="spacingAndGlyphs" >Čet</text>
<text x="554.5" y="442.4" font-size="14.72" fill="#555555" text-anchor="middle" textLength="22.4" lengthAdjust="spacingAndGlyphs" >Pet</text>
<text x="606.5" y="442.4" font-size="14.72" fill="#aa0050" text-anchor="middle" textLength="26.1" lengthAdjust="spacingAndGlyphs" >Sob</text>
<text x="658.5" y="442.4" font-size="14.72" fill="#aa0050" text-anchor="middle" textLength="27.8" lengthAdjust="spacingAndGlyphs" >Ned</text>
<text x="710.5" y="442.4" font-size="14.72" fill="#555555" text-anchor="middle" textLength="25.7" lengthAdjust="spacingAndGlyphs" >Pon</text>
<text x="34.5" y="596.6" font-size="16.2" fill="#95e0f3" text-anchor="middle" textLength="24.2" lengthAdjust="spacingAndGlyphs" >5%</text>
<text x="86.5" y="596.6" font-size="16.2" fill="#95e0f3" text-anchor="middle" textLength="24.2" lengthAdjust="spacingAndGlyphs" >5%</text>
<text x="138.5" y="596.6" font-size="16.2" fill="#95e0f3" text-anchor="middle" textLength="24.2" lengthAdjust="spacingAndGlyphs" >5%</text>
<text x="190.5" y="596.6" font-size="16.2" fill="#b5eef7" text-anchor="middle" textLength="24.2" lengthAdjust="spacingAndGlyphs" >0%</text>
<text x="242.5" y="596.6" font-size="16.2" fill="#52bff2" text-anchor="middle" textLength="34.0" lengthAdjust="spacingAndGlyphs" >30%</text>
<text x="294.5" y="596.6" font-size="16.2" fill="#2231c8" text-anchor="middle" textLength="34.0" lengthAdjust="spacingAndGlyphs" >75%</text>
<text x="346.5" y="596.6" font-size="16.2" fill="#45a9f0" text-anchor="middle" textLength="34.0" lengthAdjust="spacingAndGlyphs" >35%</text>
<text x="398.5" y="596.6" font-size="16.2" fill="#70d4f2" text-anchor="middle" textLength="34.0" lengthAdjust="spacingAndGlyphs" >20%</text>
<text x="450.5" y="596.6" font-size="16.2" fill="#84dcf2" text-anchor="middle" textLength="34.0" lengthAdjust="spacingAndGlyphs" >15%</text>
<text x="502.5" y="596.6" font-size="16.2" fill="#84dcf2" text-anchor="middle" textLength="34.0" lengthAdjust="spacingAndGlyphs" >15%</text>
<text x="554.5" y="596.6" font-size="16.2" fill="#84dcf2" text-anchor="middle" textLength="34.0" lengthAdjust="spacingAndGlyphs" >15%</text>
<text x="606.5" y="596.6" font-size="16.2" fill="#84dcf2" text-anchor="middle" textLength="34.0" lengthAdjust="spacingAndGlyphs" >15%</text>
<text x="658.5" y="596.6" font-size="16.2" fill="#8adef3" text-anchor="middle" textLength="34.0" lengthAdjust="spacingAndGlyphs" >10%</text>
<text x="710.5" y="596.6" font-size="16.2" fill="#95e0f3" text-anchor="middle" textLength="24.2" lengthAdjust="spacingAndGlyphs" >5%</text>
</svg></body></html>
